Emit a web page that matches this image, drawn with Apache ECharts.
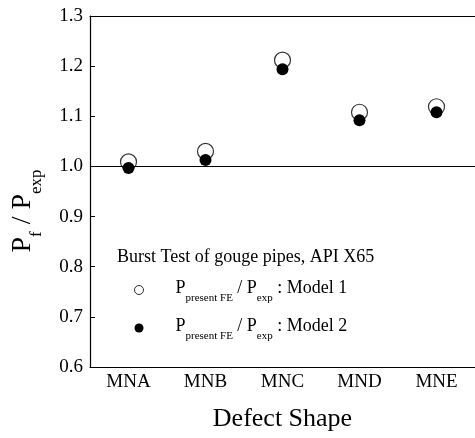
<!DOCTYPE html>
<html>
<head>
<meta charset="utf-8">
<script src="https://cdn.jsdelivr.net/npm/echarts@6/dist/echarts.min.js"></script>
<style>
  html, body { margin: 0; padding: 0; background: #fff; }
  #chart { width: 475px; height: 438px; }
</style>
</head>
<body>
<div id="chart"></div>
<script>
// data
const categories = ['MNA', 'MNB', 'MNC', 'MND', 'MNE'];
const model1 = [1.009, 1.030, 1.212, 1.108, 1.119];   // open circles
const model2 = [0.997, 1.013, 1.194, 1.092, 1.108];   // filled circles
const refLine = 1.0;

const serif = '"Liberation Serif", "DejaVu Serif", serif';
const ink = '#000';

// subscript styles for legend labels
const subRich = {
  a: { fontFamily: serif, fontSize: 18, color: ink, lineHeight: 22, verticalAlign: 'top', padding: [0, 0, 0, 27] },
  t: { fontFamily: serif, fontSize: 18, color: ink, lineHeight: 22, verticalAlign: 'top' },
  s: { fontFamily: serif, fontSize: 11, color: ink, lineHeight: 12, verticalAlign: 'top', padding: [14, 0, 0, 0] },
};

const chart = echarts.init(document.getElementById('chart'));

const option = {
  backgroundColor: '#fff',
  animation: false,
  title: {
    text: 'Burst Test of gouge pipes, API X65',
    left: 112,
    top: 243,
    textStyle: { fontFamily: serif, fontSize: 18, fontWeight: 'normal', color: ink },
  },
  legend: {
    orient: 'vertical',
    left: 129,
    top: 274,
    itemGap: 13,
    itemWidth: 9,
    itemHeight: 9,
    selectedMode: false,
    data: [
      { name: 'Model 1', icon: 'circle', itemStyle: { color: '#fff', borderColor: ink, borderWidth: 1 } },
      { name: 'Model 2', icon: 'circle', itemStyle: { color: ink, borderWidth: 0 } },
    ],
    formatter: (name) => '{a|P}{s|present FE}{t| / P}{s|exp}{t| : ' + name + '}',
    textStyle: { rich: subRich },
  },
  graphic: [
    {
      type: 'text',
      x: 24,
      y: 211,
      rotation: Math.PI / 2,
      style: {
        text: '{b|P}{c|f}{b| / P}{c|exp}',
        align: 'center',
        verticalAlign: 'middle',
        rich: {
          b: { fontFamily: serif, fontSize: 28, color: ink, lineHeight: 30, verticalAlign: 'top' },
          c: { fontFamily: serif, fontSize: 17, color: ink, lineHeight: 18, verticalAlign: 'top', padding: [19, 0, 0, 0] },
        },
      },
    },
  ],
  grid: { left: 90, top: 16, right: -2, bottom: 71 },
  xAxis: [
    {
      type: 'category',
      data: categories,
      position: 'bottom',
      name: 'Defect Shape',
      nameLocation: 'middle',
      nameGap: 39,
      nameTextStyle: { fontFamily: serif, fontSize: 26, color: ink },
      axisLine: { lineStyle: { color: ink, width: 1.2 } },
      axisTick: { inside: true, length: 5, alignWithLabel: true, lineStyle: { color: ink } },
      axisLabel: { fontFamily: serif, fontSize: 19, color: ink, margin: 6 },
      splitLine: { show: false },
    },
    {
      type: 'category',
      data: categories,
      position: 'top',
      axisLine: { lineStyle: { color: ink, width: 1.2 } },
      axisTick: { inside: true, length: 5, alignWithLabel: true, lineStyle: { color: ink } },
      axisLabel: { show: false },
      splitLine: { show: false },
    },
  ],
  yAxis: {
    type: 'value',
    min: 0.6,
    max: 1.3,
    interval: 0.1,
    axisLine: { show: true, lineStyle: { color: ink, width: 1.2 } },
    axisTick: { show: true, inside: true, length: 5, lineStyle: { color: ink } },
    axisLabel: { fontFamily: serif, fontSize: 19, color: ink, margin: 7, formatter: (v) => v.toFixed(1) },
    splitLine: { show: false },
  },
  series: [
    {
      name: 'Model 1',
      type: 'scatter',
      data: model1,
      symbol: 'circle',
      symbolSize: 16,
      itemStyle: { color: '#fff', borderColor: ink, borderWidth: 1.2 },
      emphasis: { disabled: true },
      markLine: {
        silent: true,
        symbol: 'none',
        label: { show: false },
        lineStyle: { color: ink, width: 1, type: 'solid' },
        data: [{ yAxis: refLine }],
      },
    },
    {
      name: 'Model 2',
      type: 'scatter',
      data: model2,
      symbol: 'circle',
      symbolSize: 12,
      itemStyle: { color: ink, opacity: 1 },
      emphasis: { disabled: true },
    },
  ],
};

chart.setOption(option);
</script>
</body>
</html>
